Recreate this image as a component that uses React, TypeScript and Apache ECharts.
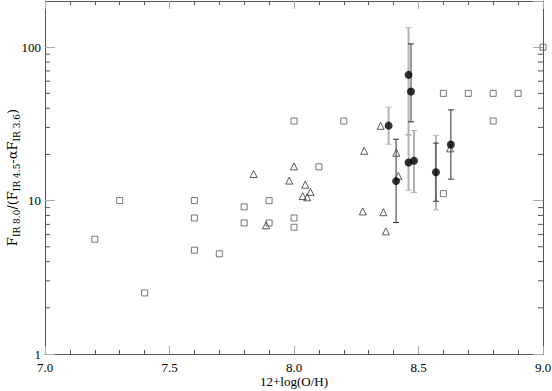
import React, { useEffect, useRef } from "react";
import * as echarts from "echarts";

// Open squares
const squareX = [7.2, 7.3, 7.4, 7.6, 7.6, 7.6, 7.7, 7.8, 7.8, 7.9, 7.9, 8.0, 8.0, 8.0, 8.1, 8.2, 8.6, 8.6, 8.7, 8.8, 8.8, 8.9, 9.0];
const squareY = [5.6, 10, 2.5, 10, 7.7, 4.75, 4.5, 9.1, 7.15, 10, 7.15, 33, 7.7, 6.7, 16.6, 33, 50, 11.1, 50, 50, 33, 50, 100];

// Open triangles
const triX = [7.838, 7.888, 7.981, 8.0, 8.045, 8.066, 8.035, 8.053, 8.276, 8.282, 8.348, 8.359, 8.369, 8.411, 8.419, 8.627];
const triY = [14.9, 6.9, 13.5, 16.7, 12.7, 11.4, 10.7, 10.5, 8.5, 21.1, 30.7, 8.4, 6.3, 20.5, 14.5, 21.9];

// Filled circles with error bars
const dotX = [8.38, 8.46, 8.47, 8.46, 8.482, 8.57, 8.63, 8.41];
const dotY = [30.8, 66, 51.4, 17.7, 18.2, 15.3, 23.2, 13.4];
const grayLow: (number | null)[] = [23.3, 27, null, 11.7, 11.3, 8.7, null, null];
const grayHigh: (number | null)[] = [40.6, 134, null, 26.7, 28.6, 26.5, null, null];
const blackLow: (number | null)[] = [null, null, 32.6, null, null, 9.9, 13.8, 7.2];
const blackHigh: (number | null)[] = [null, null, 105, null, null, 23.7, 39, 25.1];

// Axis ticks
const xTicks = ["7.0", "7.5", "8.0", "8.5", "9.0"];
const yMajor = [1, 10, 100];
const yMinor = [2, 3, 4, 5, 6, 7, 8, 9, 20, 30, 40, 50, 60, 70, 80, 90];

const AXIS = "#555";
const MAJOR_TICK = "#aaa";

function errData(lo: (number | null)[], hi: (number | null)[]) {
  const out: number[][] = [];
  dotX.forEach((x, i) => {
    if (lo[i] != null && hi[i] != null) out.push([x, lo[i] as number, hi[i] as number]);
  });
  return out;
}

function errRender(color: string, width: number) {
  return (params: any, api: any) => {
    const x = api.value(0);
    const lo = api.value(1);
    const hi = api.value(2);
    const a = api.coord([x, hi]);
    const b = api.coord([x, lo]);
    const c = 3;
    const st = { stroke: color, lineWidth: width };
    return {
      type: "group",
      children: [
        { type: "line", shape: { x1: a[0], y1: a[1], x2: b[0], y2: b[1] }, style: st },
        { type: "line", shape: { x1: a[0] - c, y1: a[1], x2: a[0] + c, y2: a[1] }, style: { stroke: color, lineWidth: 1 } },
        { type: "line", shape: { x1: b[0] - c, y1: b[1], x2: b[0] + c, y2: b[1] }, style: { stroke: color, lineWidth: 1 } },
      ],
    };
  };
}

export default function App() {
  const ref = useRef<HTMLDivElement>(null);
  useEffect(() => {
    if (!ref.current) return;
    const chart = echarts.init(ref.current, null, { renderer: "svg" });
    const xAxisBase = {
      type: "value",
      min: 7,
      max: 9,
      interval: 0.5,
      splitLine: { show: false },
      axisLine: { show: true, lineStyle: { color: AXIS, width: 1 } },
      axisTick: { show: true, inside: true, length: 8, lineStyle: { color: MAJOR_TICK, width: 1 } },
      minorTick: { show: true, splitNumber: 5, length: 4, lineStyle: { color: AXIS, width: 1 } },
      minorSplitLine: { show: false },
    };
    const yAxisBase = {
      type: "log",
      logBase: 10,
      min: 1,
      max: 200,
      splitLine: { show: false },
      axisLine: { show: true, lineStyle: { color: AXIS, width: 1 } },
      axisTick: { show: true, inside: true, length: 10, lineStyle: { color: MAJOR_TICK, width: 1 } },
    };
    chart.setOption({
      animation: false,
      backgroundColor: "#fff",
      grid: { left: 45, right: 9, top: 1, bottom: 37, containLabel: false, outerBoundsMode: "none" },
      xAxis: [
        {
          ...xAxisBase,
          position: "bottom",
          axisLabel: {
            color: "#000",
            fontFamily: "Liberation Serif",
            fontSize: 13,
            margin: 7,
            formatter: (v: number) => {
              const s = v.toFixed(1);
              return xTicks.includes(s) ? s : "";
            },
          },
          name: "12+log(O/H)",
          nameLocation: "middle",
          nameGap: 21,
          nameMoveOverlap: false,
          nameTextStyle: { color: "#000", fontFamily: "Liberation Serif", fontSize: 13 },
        },
        { ...xAxisBase, position: "top", axisLabel: { show: false } },
      ],
      yAxis: [
        {
          ...yAxisBase,
          position: "left",
          axisLabel: {
            color: "#000",
            fontFamily: "Liberation Serif",
            fontSize: 13,
            margin: 4,
            showMaxLabel: false,
            formatter: (v: number) => {
              const r = Math.round(v);
              return yMajor.includes(r) && Math.abs(v - r) < 1e-6 ? String(r) : "";
            },
          },
          name: "{m|F}{s|IR 8.0}{m|/(F}{s|IR 4.5}{m|-αF}{s|IR 3.6}{m|)}",
          nameLocation: "middle",
          nameGap: 24,
          nameMoveOverlap: false,
          nameRotate: 90,
          nameTextStyle: {
            color: "#000",
            rich: {
              m: { fontFamily: "DejaVu Serif", fontSize: 13, color: "#000", lineHeight: 18, verticalAlign: "middle" },
              s: { fontFamily: "DejaVu Serif", fontSize: 9, color: "#000", lineHeight: 18, verticalAlign: "bottom", padding: [4, 0, 0, 0] },
            },
          },
        },
        { ...yAxisBase, position: "right", axisLabel: { show: false } },
      ],
      series: [
        {
          type: "custom",
          name: "yMinorTicks",
          xAxisIndex: 0,
          yAxisIndex: 0,
          silent: true,
          clip: false,
          data: yMinor.map((v) => [7, v]),
          encode: { x: 0, y: 1 },
          renderItem: (params: any, api: any) => {
            const cs = params.coordSys;
            const p = api.coord([7, api.value(1)]);
            const st = { stroke: AXIS, lineWidth: 1 };
            return {
              type: "group",
              children: [
                { type: "line", shape: { x1: cs.x, y1: p[1], x2: cs.x + 5, y2: p[1] }, style: st },
                { type: "line", shape: { x1: cs.x + cs.width, y1: p[1], x2: cs.x + cs.width - 5, y2: p[1] }, style: st },
              ],
            };
          },
        },
        {
          type: "scatter",
          name: "squares",
          data: squareX.map((x, i) => [x, squareY[i]]),
          symbol: "rect",
          symbolSize: 6,
          itemStyle: { color: "transparent", borderColor: "#555", borderWidth: 1 },
        },
        {
          type: "scatter",
          name: "triangles",
          data: triX.map((x, i) => [x, triY[i]]),
          symbol: "triangle",
          symbolSize: 7,
          itemStyle: { color: "transparent", borderColor: "#333", borderWidth: 1 },
        },
        {
          type: "custom",
          name: "grayErr",
          data: errData(grayLow, grayHigh),
          encode: { x: 0, y: [1, 2] },
          renderItem: errRender("#b3b3b3", 2),
        },
        {
          type: "custom",
          name: "blackErr",
          data: errData(blackLow, blackHigh),
          encode: { x: 0, y: [1, 2] },
          renderItem: errRender("#333", 1),
        },
        {
          type: "scatter",
          name: "dots",
          data: dotX.map((x, i) => [x, dotY[i]]),
          symbol: "circle",
          symbolSize: 8,
          itemStyle: { color: "#000" },
          z: 5,
        },
      ],
    });
    return () => chart.dispose();
  }, []);
  return <div ref={ref} style={{ position: "fixed", left: 0, top: 0, width: 552, height: 391 }} />;
}
